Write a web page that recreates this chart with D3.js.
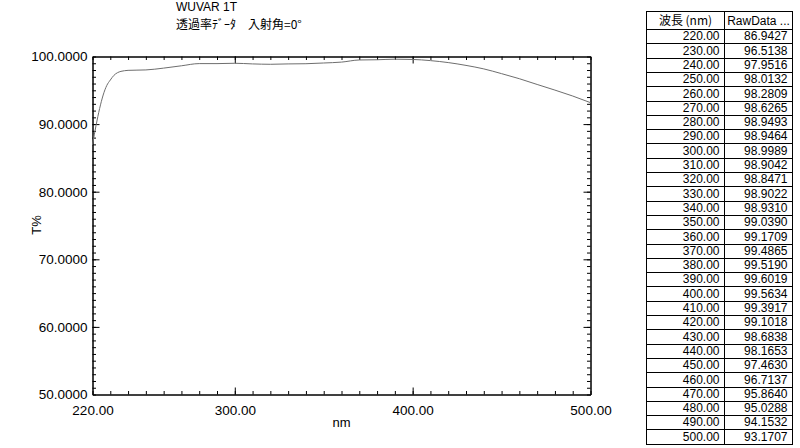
<!DOCTYPE html>
<html>
<head>
<meta charset="utf-8">
<script src="https://cdn.jsdelivr.net/npm/d3@7"></script>
<style>
  body { margin: 0; background: #fff; }
  svg { display: block; }
  text { font-family: "Liberation Sans", Arial, sans-serif; fill: #000; }
  .jp { font-family: "Noto Sans CJK JP", "Liberation Sans", sans-serif; }
</style>
</head>
<body>
<svg id="chart" width="800" height="448"></svg>
<script>
// table data (nm / RawData)
const tableNm = [220, 230, 240, 250, 260, 270, 280, 290, 300, 310, 320, 330, 340, 350, 360,
                 370, 380, 390, 400, 410, 420, 430, 440, 450, 460, 470, 480, 490, 500];
const tableRaw = [86.9427, 96.5138, 97.9516, 98.0132, 98.2809, 98.6265, 98.9493, 98.9464, 98.9989,
                  98.9042, 98.8471, 98.9022, 98.9310, 99.0390, 99.1709, 99.4865, 99.5190, 99.6019,
                  99.5634, 99.3917, 99.1018, 98.6838, 98.1653, 97.4630, 96.7137, 95.8640, 95.0288,
                  94.1532, 93.1707];

const riseNm = [222, 224, 226, 228, 232, 234, 236, 238];
const riseT = [89.8, 92.3, 94.3, 95.7, 97.2, 97.6, 97.8, 97.9];

const xLabels = [220, 300, 400, 500];
const yLabels = [50, 60, 70, 80, 90, 100];

const title1 = "WUVAR 1T";
const title2 = "透過率ﾃﾞｰﾀ\u3000入射角=0°";

const plot = { left: 92.5, right: 590.5, top: 56.5, bottom: 394.5 };

const svg = d3.select("#chart");

const x = d3.scaleLinear().domain([220, 500]).range([plot.left, plot.right]);
const y = d3.scaleLinear().domain([50, 100]).range([plot.bottom, plot.top]);

// curve points = table + rise readings
const curveData = tableNm.map((d, i) => ({ nm: d, t: tableRaw[i] }))
  .concat(riseNm.map((d, i) => ({ nm: d, t: riseT[i] })))
  .sort((a, b) => a.nm - b.nm);

// titles
svg.append("text").attr("x", 176).attr("y", 11).style("font-size", "12px").text(title1);
svg.append("text").attr("class", "jp").attr("x", 176).attr("y", 29).style("font-size", "12px").text(title2);

// ticks
const minorX = d3.range(220, 501, 10);
const majorX = [300, 400];
const minorY = d3.range(50, 101, 1);
const majorY = [60, 70, 80, 90];

const styleAxis = g => {
  g.selectAll("path, line").attr("stroke", "#000").attr("stroke-width", 1);
  g.selectAll("text").remove();
};

svg.append("g").attr("transform", `translate(0,${plot.bottom})`)
  .call(d3.axisBottom(x).tickValues(minorX).tickSize(-3.5).tickSizeOuter(0))
  .call(styleAxis);
svg.append("g").attr("transform", `translate(0,${plot.bottom})`)
  .call(d3.axisBottom(x).tickValues(majorX).tickSize(-7).tickSizeOuter(0))
  .call(styleAxis);
svg.append("g").attr("transform", `translate(0,${plot.top})`)
  .call(d3.axisTop(x).tickValues(minorX).tickSize(-3.5).tickSizeOuter(0))
  .call(styleAxis);
svg.append("g").attr("transform", `translate(0,${plot.top})`)
  .call(d3.axisTop(x).tickValues(majorX).tickSize(-7).tickSizeOuter(0))
  .call(styleAxis);
svg.append("g").attr("transform", `translate(${plot.left},0)`)
  .call(d3.axisLeft(y).tickValues(minorY).tickSize(-3.5).tickSizeOuter(0))
  .call(styleAxis);
svg.append("g").attr("transform", `translate(${plot.left},0)`)
  .call(d3.axisLeft(y).tickValues(majorY).tickSize(-7).tickSizeOuter(0))
  .call(styleAxis);
svg.append("g").attr("transform", `translate(${plot.right},0)`)
  .call(d3.axisRight(y).tickValues(minorY).tickSize(-3.5).tickSizeOuter(0))
  .call(styleAxis);
svg.append("g").attr("transform", `translate(${plot.right},0)`)
  .call(d3.axisRight(y).tickValues(majorY).tickSize(-7).tickSizeOuter(0))
  .call(styleAxis);

// tick labels
const xl = svg.append("g").attr("transform", `translate(0,${plot.bottom})`)
  .call(d3.axisBottom(x).tickValues(xLabels).tickSize(0).tickPadding(11).tickFormat(d3.format(".2f")));
xl.select(".domain").remove();
xl.selectAll("text").attr("font-family", null).style("font-size", "13.5px");

const yl = svg.append("g").attr("transform", `translate(${plot.left},0)`)
  .call(d3.axisLeft(y).tickValues(yLabels).tickSize(0).tickPadding(5).tickFormat(d3.format(".4f")));
yl.select(".domain").remove();
yl.selectAll("text").attr("font-family", null).style("font-size", "13.5px");

// axis titles
svg.append("text").attr("x", (plot.left + plot.right) / 2).attr("y", 427)
  .attr("text-anchor", "middle").style("font-size", "13px").text("nm");
svg.append("text").attr("transform", "translate(41,225) rotate(-90)")
  .attr("text-anchor", "middle").style("font-size", "13px").text("T%");

// curve
const line = d3.line()
  .x(d => x(d.nm))
  .y(d => y(d.t))
  .curve(d3.curveMonotoneX);

svg.append("path")
  .datum(curveData)
  .attr("fill", "none")
  .attr("stroke", "#6e6e6e")
  .attr("stroke-width", 1)
  .attr("d", line);

// TABLE
const tbl = { left: 646.5, mid: 724.5, right: 792.5, top: 11.5, headH: 17.5, rowH: 14.3 };
const tg = svg.append("g");

tg.append("text").attr("class", "jp").attr("x", (tbl.left + tbl.mid) / 2).attr("y", tbl.top + 13.5)
  .attr("text-anchor", "middle").style("font-size", "12px").text("波長 (nm)");
tg.append("text").attr("x", (tbl.mid + tbl.right) / 2).attr("y", tbl.top + 13.5)
  .attr("text-anchor", "middle").style("font-size", "12px").text("RawData ...");

const rowY = i => tbl.top + tbl.headH + i * tbl.rowH;
const bottomY = rowY(tableNm.length);

const rows = tg.selectAll(".row").data(tableNm).enter().append("g").attr("class", "row");
rows.append("text")
  .attr("x", tbl.mid - 5)
  .attr("y", (d, i) => rowY(i) + tbl.rowH - 3)
  .attr("text-anchor", "end").style("font-size", "12px")
  .text(d => d3.format(".2f")(d));
rows.append("text")
  .attr("x", tbl.right - 5)
  .attr("y", (d, i) => rowY(i) + tbl.rowH - 3)
  .attr("text-anchor", "end").style("font-size", "12px")
  .text((d, i) => d3.format(".4f")(tableRaw[i]));

// grid lines
tg.selectAll(".hline").data(d3.range(tableNm.length + 1)).enter().append("line")
  .attr("x1", tbl.left).attr("x2", tbl.right)
  .attr("y1", i => Math.round(rowY(i)) + 0.5).attr("y2", i => Math.round(rowY(i)) + 0.5)
  .attr("stroke", "#000");
tg.append("rect").attr("x", tbl.left).attr("y", tbl.top)
  .attr("width", tbl.right - tbl.left).attr("height", Math.round(bottomY) + 0.5 - tbl.top)
  .attr("fill", "none").attr("stroke", "#000");
tg.append("line").attr("x1", tbl.mid).attr("x2", tbl.mid)
  .attr("y1", tbl.top).attr("y2", Math.round(bottomY) + 0.5).attr("stroke", "#000");
</script>
</body>
</html>
